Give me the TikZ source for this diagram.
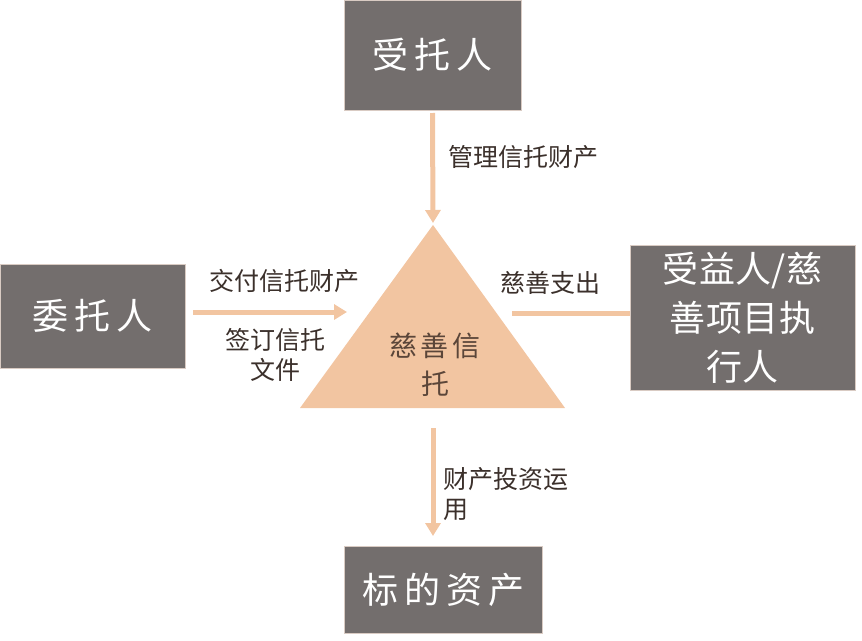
\documentclass[tikz,border=0pt]{standalone}
\usepackage{fontspec}
\setmainfont{Noto Sans CJK SC}
\newfontfamily\boxfont[LetterSpace=17]{Noto Sans CJK SC}
\newfontfamily\narrowboxfont[LetterSpace=1]{Noto Sans CJK SC}
\newfontfamily\trifont[LetterSpace=14]{Noto Sans CJK SC}
\usetikzlibrary{arrows.meta}
\definecolor{boxgray}{HTML}{736E6D}
\definecolor{boxedge}{HTML}{D9CBC3}
\definecolor{peach}{HTML}{F2C5A1}
\definecolor{labeltext}{HTML}{3B302B}
\definecolor{tritext}{HTML}{5B4639}
\tikzset{
  partybox/.style={rectangle, fill=boxgray, draw=boxedge, line width=0.6pt, text=white, inner sep=0pt, align=center, font=\boxfont\fontsize{36}{49}\selectfont},
  flow/.style={draw=peach, line width=5pt, -{Triangle[width=15pt,length=13pt]}},
  flowlabel/.style={text=labeltext, inner sep=0pt, font=\fontsize{25}{30}\selectfont}
}
\begin{document}
\begin{tikzpicture}[x=1pt,y=-1pt]
\useasboundingbox (0,0) rectangle (862,640);
\node[partybox, minimum width=177, minimum height=110] (trustee) at (432.5,55){受托人};
\node[partybox, minimum width=185, minimum height=104] (settlor) at (92.5,316){委托人};
\node[partybox, minimum width=225, minimum height=145, font=\narrowboxfont\fontsize{36}{49}\selectfont] (benef) at (742.5,318){受益人/慈\\善项目执\\行人};
\node[partybox, minimum width=198, minimum height=87] (asset) at (443.5,589.5){标的资产};
\fill[peach] (433,225) -- (565,408) -- (300,408) -- cycle;
\node[text=tritext, inner sep=0pt, align=center, font=\trifont\fontsize{28}{38}\selectfont] (trust) at (435,365){慈善信\\托};
\coordinate (tid0) at (433,223);
\coordinate (tid1) at (347,312);
\coordinate (tid2) at (512,313);
\coordinate (tid3) at (433,428);
\coordinate (tid4) at (433,536);
\draw[flow] (trustee.south |- 0,113) -- (tid0);
\draw[flow] (settlor.east |- 0,312) ++(8,0) -- (tid1);
\draw[draw=peach, line width=5pt] (tid2) -- (tid2 -| benef.west);
\draw[flow] (tid3) -- (tid4);
\node[flowlabel, anchor=west] (lab0) at (448,157){管理信托财产};
\node[flowlabel] (lab1) at (284,281){交付信托财产};
\node[flowlabel, align=center] (lab2) at (275,355){签订信托\\文件};
\node[flowlabel] (lab3) at (550,283){慈善支出};
\node[flowlabel, anchor=north west, align=left] (lab4) at (443,467){财产投资运\\用};
\end{tikzpicture}
\end{document}
